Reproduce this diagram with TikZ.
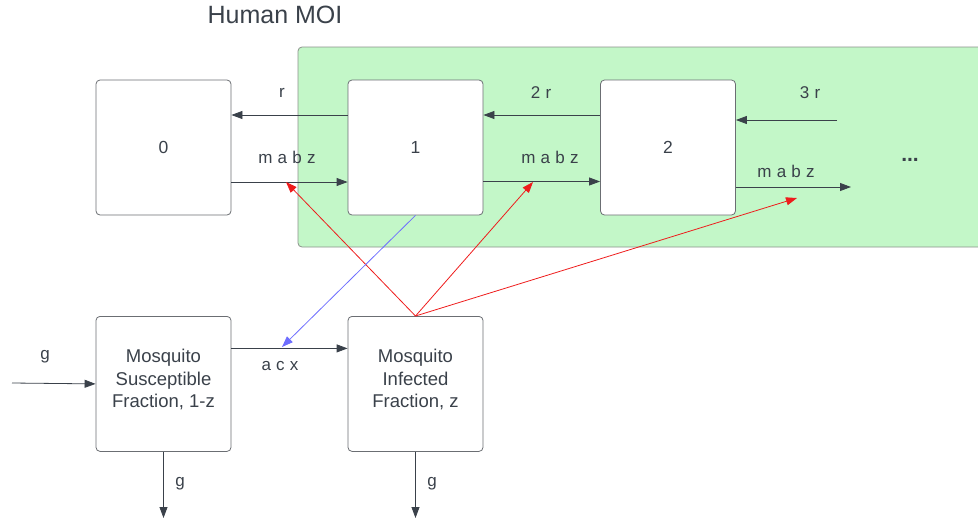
\documentclass[tikz,border=0pt]{standalone}
\usepackage{fontspec}
\setmainfont{Liberation Sans}
\usetikzlibrary{arrows.meta}
\definecolor{ink}{HTML}{3A414A}
\definecolor{boxline}{HTML}{6B6E73}
\definecolor{grn}{HTML}{C3F7C8}
\definecolor{grnline}{HTML}{8C918C}
\definecolor{redarr}{HTML}{EE1C1C}
\definecolor{bluearr}{HTML}{6E6EFF}
\begin{document}
\begin{tikzpicture}[x=1pt,y=-1pt,
  box/.style={draw=boxline,fill=white,rounded corners=4pt,minimum width=135pt,minimum height=135pt,inner sep=0pt,line width=0.8pt,text=ink,font=\fontsize{17.5}{21}\selectfont},
  mbox/.style={box},
  arr/.style={draw=ink,line width=0.8pt,-{Triangle[length=11pt,width=8pt]}},
  rarr/.style={draw=redarr,line width=0.8pt,-{Triangle[length=11pt,width=8pt]}},
  barr/.style={draw=bluearr,line width=0.8pt,-{Triangle[length=11pt,width=8pt]}},
  lbl/.style={text=ink,font=\fontsize{17}{20}\selectfont\addfontfeature{LetterSpace=3},inner sep=0pt},
  mtxt/.style={text=ink,align=center,inner sep=0pt,anchor=north,font=\fontsize{18.5}{22.5}\selectfont}]
\useasboundingbox (0,0) rectangle (978,520);
\begin{scope}
\clip (0,0) rectangle (978,520);
\draw[draw=grnline,fill=grn,line width=0.8pt,rounded corners=4pt] (298,47) rectangle (1000,247);
\end{scope}
\node[text=ink,inner sep=0pt,font=\fontsize{25}{30}\selectfont] (title) at (275,15) {Human MOI};
% boxes
\node[box] (b0) at (163.5,147.5) {0};
\node[box] (b1) at (415.5,147.5) {1};
\node[box] (b2) at (668,147.5) {2};
\node[mbox,anchor=north] (ms) at (163.5,316) {};
\node[mbox,anchor=north] (mi) at (415.5,316) {};
\node[mtxt] (mst) at (163.5,349) {Mosquito\\Susceptible\\Fraction, 1-z};
\node[mtxt] (mit) at (415.5,349) {Mosquito\\Infected\\Fraction, z};
% coordinates
\coordinate (c3) at (837,120);
\coordinate (e2) at (851,187);
\coordinate (t0) at (286,182);
\coordinate (t1) at (533,182);
\coordinate (t2) at (797,198);
\coordinate (tb) at (282,347);
\coordinate (gin) at (12,383);
\coordinate (gs) at (163.5,518);
\coordinate (gi) at (415.5,518);
% human transitions
\draw[arr] ([yshift=32.5pt]b1.west) -- ([yshift=32.5pt]b0.east);
\draw[arr] ([yshift=-34.5pt]b0.east) -- ([yshift=-34.5pt]b1.west);
\draw[arr] ([yshift=32.5pt]b2.west) -- ([yshift=32.5pt]b1.east);
\draw[arr] ([yshift=-34pt]b1.east) -- ([yshift=-34pt]b2.west);
\draw[arr] (c3) -- (b2.east |- c3);
\draw[arr] (b2.east |- e2) -- (e2);
\node[lbl] (lr) at (282,93) {r};
\node[lbl] (l2r) at (541,93) {2 r};
\node[lbl] (l3r) at (810,93) {3 r};
\node[lbl] (lm0) at (287,157) {m a b z};
\node[lbl] (lm1) at (550,157) {m a b z};
\node[lbl] (lm2) at (786,171) {m a b z};
\node[text=ink,inner sep=0pt,font=\fontsize{21}{24}\selectfont\bfseries] (dots) at (910,160) {...};
% mosquito transitions
\draw[arr] ([yshift=35.5pt]ms.east) -- ([yshift=35.5pt]mi.west);
\node[lbl] (lacx) at (280,366) {a c x};
\draw[arr] (gin) -- (ms.west);
\node[lbl] (lg0) at (45,357) {g};
\draw[arr] (ms.south) -- (gs);
\node[lbl] (lg1) at (180,484) {g};
\draw[arr] (mi.south) -- (gi);
\node[lbl] (lg2) at (432,484) {g};
% infection arrows
\draw[rarr] (mi.north) -- (t0);
\draw[rarr] (mi.north) -- (t1);
\draw[rarr] (mi.north) -- (t2);
\draw[barr] (b1.south) -- (tb);
\end{tikzpicture}
\end{document}
